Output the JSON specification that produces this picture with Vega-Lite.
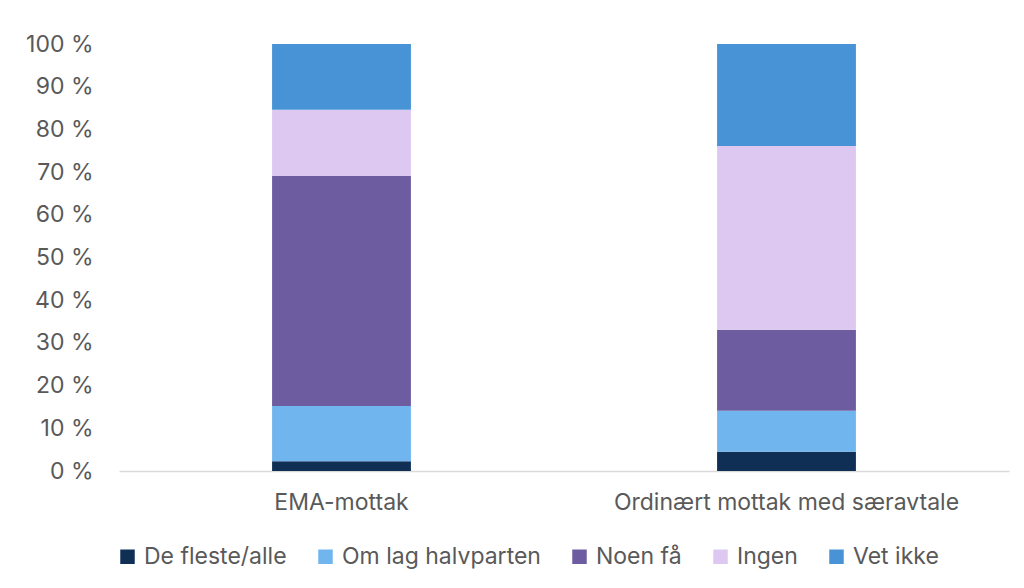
{
  "$schema": "https://vega.github.io/schema/vega-lite/v6.json",
  "width": 890,
  "height": 427,
  "autosize": {"type": "none"},
  "padding": {"left": 119, "top": 44, "right": 15, "bottom": 117},
  "background": "white",
  "config": {
    "view": {"stroke": null},
    "font": "Inter",
    "axis": {"labelFont": "Inter", "labelColor": "#595959", "labelFontSize": 23, "labelLimit": 0, "title": null},
    "legend": {"labelFont": "Inter", "labelColor": "#595959", "labelFontSize": 23, "labelLimit": 0}
  },
  "data": {
    "values": [
      {"mottak": "EMA-mottak", "svar": "De fleste/alle", "rank": 1, "andel": 2.3},
      {"mottak": "EMA-mottak", "svar": "Om lag halvparten", "rank": 2, "andel": 12.9},
      {"mottak": "EMA-mottak", "svar": "Noen få", "rank": 3, "andel": 53.9},
      {"mottak": "EMA-mottak", "svar": "Ingen", "rank": 4, "andel": 15.5},
      {"mottak": "EMA-mottak", "svar": "Vet ikke", "rank": 5, "andel": 15.4},
      {"mottak": "Ordinært mottak med særavtale", "svar": "De fleste/alle", "rank": 1, "andel": 4.5},
      {"mottak": "Ordinært mottak med særavtale", "svar": "Om lag halvparten", "rank": 2, "andel": 9.6},
      {"mottak": "Ordinært mottak med særavtale", "svar": "Noen få", "rank": 3, "andel": 19.0},
      {"mottak": "Ordinært mottak med særavtale", "svar": "Ingen", "rank": 4, "andel": 43.0},
      {"mottak": "Ordinært mottak med særavtale", "svar": "Vet ikke", "rank": 5, "andel": 23.9}
    ]
  },
  "mark": {"type": "bar"},
  "encoding": {
    "x": {
      "field": "mottak",
      "type": "nominal",
      "sort": null,
      "scale": {"paddingInner": 0.688, "paddingOuter": 0.344},
      "axis": {"labelAngle": 0, "ticks": false, "domainColor": "#d9d9d9", "domainWidth": 1.5, "labelPadding": 20}
    },
    "y": {
      "field": "andel",
      "type": "quantitative",
      "stack": "zero",
      "scale": {"domain": [0, 100], "nice": false},
      "axis": {"values": [0, 10, 20, 30, 40, 50, 60, 70, 80, 90, 100], "labelExpr": "datum.value + ' %'", "domain": false, "ticks": false, "grid": false, "labelPadding": 26}
    },
    "color": {
      "field": "svar",
      "type": "nominal",
      "sort": ["De fleste/alle", "Om lag halvparten", "Noen få", "Ingen", "Vet ikke"],
      "scale": {
        "domain": ["De fleste/alle", "Om lag halvparten", "Noen få", "Ingen", "Vet ikke"],
        "range": ["#0f2f55", "#71b5ef", "#6e5ca0", "#dcc8f0", "#4793d6"]
      },
      "legend": {
        "title": null,
        "orient": "none",
        "direction": "horizontal",
        "legendX": -3,
        "legendY": 501,
        "symbolType": "square",
        "symbolSize": 210,
        "symbolStrokeWidth": 0,
        "symbolOpacity": 1,
        "labelOffset": 5,
        "columnPadding": 27
      }
    },
    "order": {"field": "rank", "type": "quantitative", "sort": "ascending"}
  }
}
